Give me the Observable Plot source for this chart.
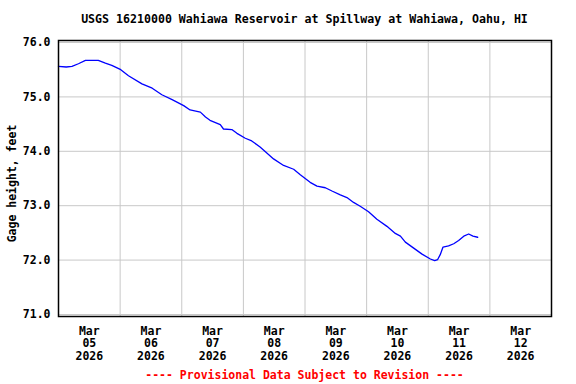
<!DOCTYPE html>
<html>
<head>
<meta charset="utf-8">
<script src="https://cdn.jsdelivr.net/npm/d3@7"></script>
<script src="https://cdn.jsdelivr.net/npm/@observablehq/plot@0.6"></script>
<style>
  html, body { margin: 0; padding: 0; background: #fff; }
  body { width: 576px; height: 384px; overflow: hidden; font-family: "DejaVu Sans Mono", monospace; font-weight: bold; }
  #title { box-sizing: border-box; height: 30px; padding-top: 8px; line-height: 22px; padding-left: 58px; width: 551px; text-align: center; font-size: 11.6px; color: #000; white-space: nowrap; }
  #footer { box-sizing: border-box; height: 18px; line-height: 18px; padding-left: 58px; width: 551px; text-align: center; font-size: 11.5px; color: #ff0000; white-space: nowrap; }
  #chart svg { display: block; }
</style>
</head>
<body>
<div id="title"></div>
<div id="chart"></div>
<div id="footer"></div>
<script>
const titleText = "USGS 16210000 Wahiawa Reservoir at Spillway at Wahiawa, Oahu, HI";
const yLabel = "Gage height, feet";
const footerText = "---- Provisional Data Subject to Revision ----";

// Gage height readings (timestamps, feet)
const times = [
  "2026-03-05T00:00","2026-03-05T03:00","2026-03-05T05:15","2026-03-05T07:45","2026-03-05T10:30",
  "2026-03-05T15:30","2026-03-05T18:15","2026-03-05T20:45","2026-03-06T00:15","2026-03-06T03:15",
  "2026-03-06T08:30","2026-03-06T12:30","2026-03-06T16:15","2026-03-06T20:15","2026-03-07T00:45",
  "2026-03-07T03:15","2026-03-07T07:15","2026-03-07T09:15","2026-03-07T11:00","2026-03-07T15:00",
  "2026-03-07T16:15","2026-03-07T19:30","2026-03-07T21:30","2026-03-08T00:45","2026-03-08T03:15",
  "2026-03-08T06:30","2026-03-08T08:55","2026-03-08T11:45","2026-03-08T15:40","2026-03-08T19:35",
  "2026-03-08T22:10","2026-03-09T02:00","2026-03-09T04:40","2026-03-09T07:55","2026-03-09T10:30",
  "2026-03-09T13:45","2026-03-09T16:20","2026-03-09T18:55","2026-03-09T21:30","2026-03-10T00:45",
  "2026-03-10T04:00","2026-03-10T07:55","2026-03-10T11:10","2026-03-10T13:10","2026-03-10T15:05",
  "2026-03-10T18:20","2026-03-10T21:35","2026-03-11T00:50","2026-03-11T02:30","2026-03-11T03:40",
  "2026-03-11T04:40","2026-03-11T05:45","2026-03-11T07:55","2026-03-11T09:55","2026-03-11T11:50",
  "2026-03-11T13:50","2026-03-11T15:45","2026-03-11T17:25","2026-03-11T19:15"
];
const heights = [
  75.56, 75.55, 75.56, 75.61, 75.67,
  75.67, 75.62, 75.58, 75.50, 75.39,
  75.24, 75.16, 75.04, 74.95, 74.84,
  74.76, 74.72, 74.63, 74.57, 74.49,
  74.41, 74.40, 74.33, 74.24, 74.19,
  74.08, 73.98, 73.86, 73.74, 73.67,
  73.57, 73.43, 73.36, 73.33, 73.27,
  73.20, 73.15, 73.06, 72.99, 72.89,
  72.75, 72.62, 72.49, 72.44, 72.33,
  72.22, 72.11, 72.02, 71.99, 72.01,
  72.10, 72.24, 72.26, 72.30, 72.36,
  72.44, 72.48, 72.44, 72.42
];

const yTicks = [71, 72, 73, 74, 75, 76];
const gridDays = ["2026-03-06","2026-03-07","2026-03-08","2026-03-09","2026-03-10","2026-03-11","2026-03-12"];
const tickTimes = ["2026-03-05T12:00","2026-03-06T12:00","2026-03-07T12:00","2026-03-08T12:00","2026-03-09T12:00","2026-03-10T12:00","2026-03-11T12:00","2026-03-12T12:00"];
const tickLabels = ["Mar\n05\n2026","Mar\n06\n2026","Mar\n07\n2026","Mar\n08\n2026","Mar\n09\n2026","Mar\n10\n2026","Mar\n11\n2026","Mar\n12\n2026"];
const xDomain = ["2026-03-05T00:00","2026-03-13T00:00"];

const parse = s => new Date(s.length === 10 ? s + "T00:00:00Z" : s + ":00Z");
const data = times.map((t, i) => ({time: parse(t), height: heights[i]}));
const tickDates = tickTimes.map(parse);
const labelByTime = new Map(tickDates.map((d, i) => [+d, tickLabels[i]]));

document.getElementById("title").textContent = titleText;
document.getElementById("footer").textContent = footerText;

const chart = Plot.plot({
  width: 576,
  height: 336,
  marginTop: 10,
  marginBottom: 50,
  marginLeft: 58,
  marginRight: 25,
  style: {fontFamily: "'DejaVu Sans Mono', monospace", fontWeight: "bold", fontSize: "11.5px", color: "#000", background: "#fff"},
  x: {type: "utc", domain: xDomain.map(parse)},
  y: {domain: [70.963, 76.037]},
  marks: [
    Plot.ruleY(yTicks, {stroke: "#c8c8c8", strokeWidth: 1}),
    Plot.ruleX(gridDays.map(parse), {stroke: "#c8c8c8", strokeWidth: 1}),
    Plot.line(data, {x: "time", y: "height", stroke: "#0000ff", strokeWidth: 1.3}),
    Plot.frame({stroke: "#000", strokeWidth: 1.5}),
    Plot.axisY(yTicks, {tickSize: 0, tickPadding: 8, tickFormat: d3.format(".1f"), label: null, fontSize: 11.5, fontWeight: "bold"}),
    Plot.axisX(tickDates, {tickSize: 0, tickPadding: 9, tickFormat: d => labelByTime.get(+d), label: null, lineHeight: 1.11, fontSize: 11.5, fontWeight: "bold"}),
    Plot.text([yLabel], {text: d => d, frameAnchor: "left", textAnchor: "middle", dx: -46, dy: 5, rotate: -90, fontSize: 11.5, fontWeight: "bold"})
  ]
});
document.getElementById("chart").appendChild(chart);
</script>
</body>
</html>
